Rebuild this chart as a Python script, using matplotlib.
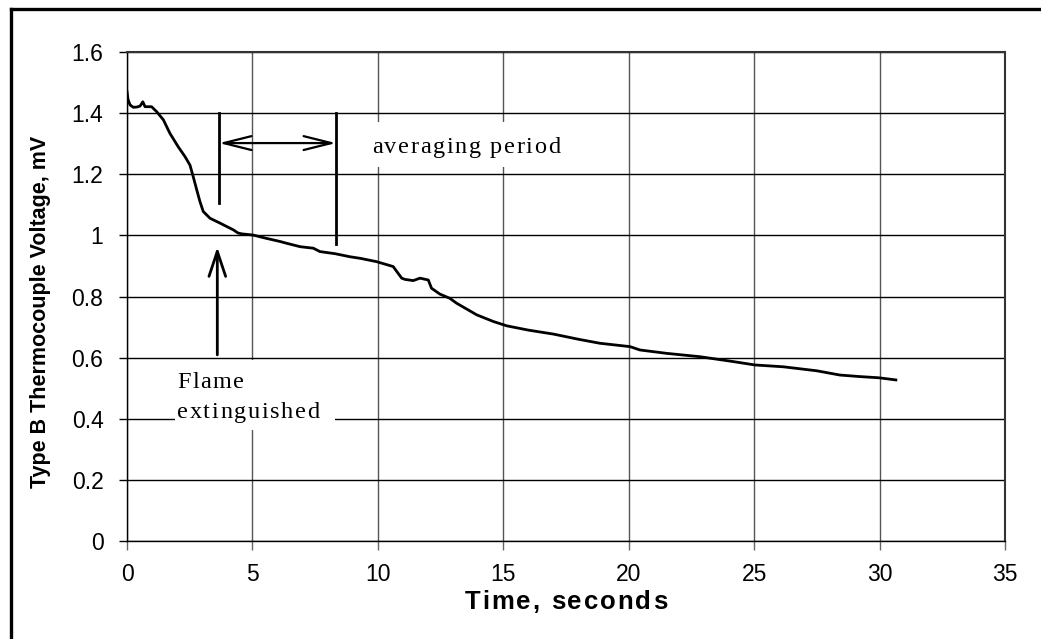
#!/usr/bin/env python3
import matplotlib
matplotlib.use("Agg")
import matplotlib.pyplot as plt
from matplotlib.font_manager import FontProperties
from matplotlib.lines import Line2D
from matplotlib.patches import Rectangle

TIME = [0.00, 0.04, 0.12, 0.25, 0.40, 0.52, 0.63, 0.72, 0.98, 1.18, 1.45,
        1.71, 2.04, 2.31, 2.51, 2.64, 2.78, 2.91, 3.04, 3.31, 3.71, 4.24,
        4.42, 4.57, 5.03, 5.57, 6.10, 6.37, 6.90, 7.43, 7.69, 8.30, 8.89,
        9.29, 9.95, 10.61, 10.95, 11.08, 11.41, 11.68, 12.01, 12.14, 12.47,
        12.87, 13.14, 13.94, 14.61, 15.14, 16.00, 17.00, 18.00, 18.85, 20.05,
        20.45, 21.51, 22.84, 24.17, 25.03, 26.16, 27.49, 28.42, 29.21, 29.98,
        30.65]
VOLTAGE = [1.470, 1.445, 1.427, 1.419, 1.420, 1.423, 1.437, 1.421, 1.421,
           1.405, 1.378, 1.334, 1.290, 1.258, 1.230, 1.192, 1.149, 1.110,
           1.078, 1.056, 1.040, 1.018, 1.008, 1.005, 1.001, 0.990, 0.980,
           0.974, 0.963, 0.958, 0.947, 0.940, 0.930, 0.925, 0.914, 0.898,
           0.860, 0.856, 0.852, 0.860, 0.854, 0.827, 0.808, 0.794, 0.778,
           0.740, 0.718, 0.704, 0.690, 0.677, 0.660, 0.647, 0.636, 0.625,
           0.614, 0.603, 0.587, 0.576, 0.570, 0.557, 0.543, 0.538, 0.534,
           0.527]

X_TICKS = [0, 5, 10, 15, 20, 25, 30, 35]
Y_TICKS = [0, 0.2, 0.4, 0.6, 0.8, 1.0, 1.2, 1.4, 1.6]
Y_TICK_LABELS = ["0", "0.2", "0.4", "0.6", "0.8", "1", "1.2", "1.4", "1.6"]

FLAME_OUT = 3.6          # s, flame extinguished
AVG_START, AVG_END = 3.67, 8.33   # s, averaging period

W, H = 1041, 639


def advance(renderer, ch, prop):
    w1 = renderer.get_text_width_height_descent("|" + ch + "|", prop, ismath=False)[0]
    w0 = renderer.get_text_width_height_descent("||", prop, ismath=False)[0]
    return w1 - w0


def spaced_text(fig, x_px, y_px, text, prop, gap, ha="left"):
    """Draw text letter by letter (pixel coords, y from top, baseline)."""
    renderer = fig.canvas.get_renderer()
    advs = [advance(renderer, ch, prop) for ch in text]
    total = sum(advs) + gap * (len(text) - 1)
    x = x_px - total / 2 if ha == "center" else x_px
    for ch, a in zip(text, advs):
        fig.text(x / W, 1 - y_px / H, ch, fontproperties=prop,
                 ha="left", va="baseline", zorder=5)
        x += a + gap


def main() -> None:
    fig = plt.figure(figsize=(W / 100, H / 100), dpi=100)
    ax = fig.add_axes([127 / W, 1 - 541 / H, 878 / W, 489 / H])

    ax.plot(TIME, VOLTAGE, color="black", lw=2.0, zorder=4)

    ax.set_xlim(0, 35)
    ax.set_ylim(0, 1.6)
    ax.set_xticks(X_TICKS)
    ax.set_yticks(Y_TICKS)
    ax.set_yticklabels(Y_TICK_LABELS)
    ax.set_axisbelow(True)
    ax.yaxis.grid(True, color="black", lw=1.0)
    ax.xaxis.grid(True, color="#555555", lw=1.0)

    for lab in ax.get_xticklabels() + ax.get_yticklabels():
        lab.set_fontfamily("Liberation Sans")
        lab.set_fontsize(16.5)
    ax.tick_params(axis="y", direction="out", length=6, width=1, color="black", pad=11)
    ax.tick_params(axis="x", direction="out", length=6.5, width=1, color="#666666", pad=9)

    for side in ("left", "bottom"):
        ax.spines[side].set_color("black")
        ax.spines[side].set_linewidth(1.0)
    for side in ("top", "right"):
        ax.spines[side].set_color("#333333")
        ax.spines[side].set_linewidth(1.5)

    # flame extinguished arrow
    ax.annotate("", xy=(FLAME_OUT, 0.962), xytext=(FLAME_OUT, 0.609),
                arrowprops=dict(arrowstyle="->,head_length=1.8,head_width=0.6",
                                lw=2.0, color="black", shrinkA=0, shrinkB=0))
    # averaging period markers
    ax.plot([AVG_START, AVG_START], [1.106, 1.400], color="black", lw=2.0)
    ax.plot([AVG_END, AVG_END], [0.972, 1.400], color="black", lw=2.0)
    ax.annotate("", xy=(AVG_END, 1.302), xytext=(AVG_START, 1.302),
                arrowprops=dict(arrowstyle="<->,head_length=2.0,head_width=0.5",
                                lw=1.6, color="black", shrinkA=0, shrinkB=0))

    # white boxes behind the annotation texts
    ax.add_patch(Rectangle((1.91, 0.363), 6.38, 0.229, facecolor="white",
                           edgecolor="none", zorder=3))
    ax.add_patch(Rectangle((9.45, 1.224), 8.3, 0.147, facecolor="white",
                           edgecolor="none", zorder=3))

    serif = FontProperties(family="Liberation Serif", size=17.5)
    spaced_text(fig, 372, 153, "averaging period", serif, 1.6)
    spaced_text(fig, 177, 388, "Flame", serif, 1.6)
    spaced_text(fig, 177, 418, "extinguished", serif, 1.6)

    bold = FontProperties(family="Liberation Sans", weight="bold", size=18.5)
    spaced_text(fig, 566, 609, "Time, seconds", bold, 2.0, ha="center")

    fig.text(41 / W, 1 - 312 / H, "Type B Thermocouple Voltage, mV",
             rotation=90, ha="center", va="center",
             family="Liberation Sans", weight="bold", size=15.5)

    # outer frame (only top and left edges fall inside the image)
    fig.add_artist(Line2D([10.5 / W, 10.5 / W], [0, 1 - 8.5 / H],
                          color="black", lw=2.4))
    fig.add_artist(Line2D([10.5 / W, 1], [1 - 8.5 / H, 1 - 8.5 / H],
                          color="black", lw=2.4))

    fig.savefig("out.png", dpi=100)


if __name__ == "__main__":
    main()
